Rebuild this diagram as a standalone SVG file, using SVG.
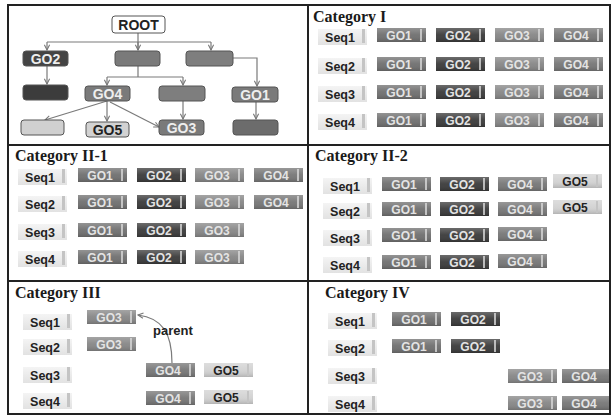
<svg xmlns="http://www.w3.org/2000/svg" width="612" height="417" viewBox="0 0 612 417">
<defs>
<linearGradient id="gloss" x1="0" y1="0" x2="0" y2="1">
<stop offset="0" stop-color="#fff" stop-opacity="0.25"/>
<stop offset="0.5" stop-color="#fff" stop-opacity="0.05"/>
<stop offset="1" stop-color="#000" stop-opacity="0.15"/>
</linearGradient>
<linearGradient id="seqg" x1="0" y1="0" x2="0" y2="1">
<stop offset="0" stop-color="#f4f4f4"/>
<stop offset="1" stop-color="#e2e2e2"/>
</linearGradient>
<marker id="ah" viewBox="0 0 8 8" refX="7" refY="4" markerWidth="7" markerHeight="7" orient="auto" markerUnits="userSpaceOnUse">
<path d="M1,1 L7,4 L1,7" fill="none" stroke="#777" stroke-width="1.2"/>
</marker>
</defs>
<style>
.frame{fill:none;stroke:#222;stroke-width:2}
.title{font-family:"Liberation Serif",serif;font-weight:bold;font-size:16px;fill:#1a1a1a}
.seqt{font-family:"Liberation Sans",Arial,sans-serif;font-weight:bold;font-size:12.5px;fill:#222;text-anchor:middle}
.got{font-family:"Liberation Sans",Arial,sans-serif;font-weight:bold;font-size:12px;text-anchor:middle}
.seqbox{fill:url(#seqg)}
.bevel{fill:#c4c4c4}
.hl{fill:url(#gloss)}
.go1{fill:#6f6f6f}.go2{fill:#3a3a3a}.go3{fill:#868686}.go4{fill:#767676}.go5{fill:#d2d2d2}
.tl{fill:#e4e4e4}.td{fill:#222}
.strip{fill:#d8d8d8;opacity:0.8}
.tn{stroke:#555;stroke-width:1;rx:3}
.tt{font-family:"Liberation Sans",Arial,sans-serif;font-weight:bold;font-size:14px;text-anchor:middle}
.conn{fill:none;stroke:#7a7a7a;stroke-width:1.2}
</style>
<rect x="0" y="0" width="612" height="417" fill="#fff"/>

<!-- Tree panel -->
<g id="tree-connectors">
<path class="conn" d="M138,33 V50"/>
<path class="conn" d="M47,42 H211"/>
<path class="conn" d="M47,42 V50" marker-end="url(#ah)"/>
<path class="conn" d="M138,42 V50" marker-end="url(#ah)"/>
<path class="conn" d="M211,42 V50" marker-end="url(#ah)"/>
<path class="conn" d="M47,66 V84" marker-end="url(#ah)"/>
<path class="conn" d="M138,66 V77 M107,77 H183"/>
<path class="conn" d="M107,77 V85" marker-end="url(#ah)"/>
<path class="conn" d="M183,77 V85" marker-end="url(#ah)"/>
<path class="conn" d="M233,58 H257 V86" marker-end="url(#ah)"/>
<path class="conn" d="M256,102 V119" marker-end="url(#ah)"/>
<path class="conn" d="M183,101 V119" marker-end="url(#ah)"/>
<path class="conn" d="M107,101 L45,120" marker-end="url(#ah)"/>
<path class="conn" d="M107,101 V121" marker-end="url(#ah)"/>
<path class="conn" d="M110,102 L159,127" marker-end="url(#ah)"/>
</g>
<g id="root"><rect class="tn" x="112" y="16" width="53" height="17" fill="#fff"/><text class="tt" x="138.5" y="29.5" fill="#222">ROOT</text></g>
<g id="t-go2"><rect class="tn" x="23" y="51" width="45" height="15" fill="#444"/><text class="tt" x="45.5" y="63.5" fill="#eee">GO2</text></g>
<g id="t-mid"><rect class="tn" x="115" y="51" width="45" height="15" fill="#7a7a7a"/></g>
<g id="t-right"><rect class="tn" x="186" y="51" width="47" height="15" fill="#7e7e7e"/></g>
<g id="t-dark"><rect class="tn" x="23" y="85" width="45" height="15" fill="#3c3c3c"/></g>
<g id="t-go4"><rect class="tn" x="85" y="86" width="45" height="15" fill="#7a7a7a"/><text class="tt" x="107.5" y="98.5" fill="#eee">GO4</text></g>
<g id="t-midright"><rect class="tn" x="159" y="86" width="46" height="15" fill="#7e7e7e"/></g>
<g id="t-go1"><rect class="tn" x="232" y="87" width="46" height="15" fill="#7a7a7a"/><text class="tt" x="255" y="99.5" fill="#eee">GO1</text></g>
<g id="t-light"><rect class="tn" x="21" y="120" width="43" height="15" fill="#d0d0d0"/></g>
<g id="t-go5"><rect class="tn" x="86" y="122" width="43" height="15" fill="#d2d2d2"/><text class="tt" x="107.5" y="134.5" fill="#222">GO5</text></g>
<g id="t-go3"><rect class="tn" x="159" y="120" width="45" height="15" fill="#7a7a7a"/><text class="tt" x="181.5" y="132.5" fill="#eee">GO3</text></g>
<g id="t-bottomright"><rect class="tn" x="233" y="120" width="45" height="15" fill="#6c6c6c"/></g>

<!-- Category I -->
<g id="cat1">
<text class="title" x="313" y="22">Category I</text>
<g id="c1-seq1"><rect class="seqbox" x="318" y="29" width="49" height="16"/><rect class="bevel" x="362" y="29" width="3" height="14"/><text class="seqt" x="340" y="42">Seq1</text></g>
<g id="c1-seq2"><rect class="seqbox" x="318" y="58" width="49" height="16"/><rect class="bevel" x="362" y="58" width="3" height="14"/><text class="seqt" x="340" y="71">Seq2</text></g>
<g id="c1-seq3"><rect class="seqbox" x="318" y="86" width="49" height="16"/><rect class="bevel" x="362" y="86" width="3" height="14"/><text class="seqt" x="340" y="99">Seq3</text></g>
<g id="c1-seq4"><rect class="seqbox" x="318" y="114" width="49" height="16"/><rect class="bevel" x="362" y="114" width="3" height="14"/><text class="seqt" x="340" y="127">Seq4</text></g>

<g><rect class="go1" x="377" y="28" width="49" height="14"/><rect class="hl" x="377" y="28" width="49" height="14"/><rect class="strip" x="420" y="29" width="2" height="12"/><text class="got tl" x="399" y="39.5">GO1</text></g>
<g><rect class="go2" x="436" y="28" width="49" height="14"/><rect class="hl" x="436" y="28" width="49" height="14"/><rect class="strip" x="479" y="29" width="2" height="12"/><text class="got tl" x="458" y="39.5">GO2</text></g>
<g><rect class="go3" x="495" y="28" width="49" height="14"/><rect class="hl" x="495" y="28" width="49" height="14"/><rect class="strip" x="538" y="29" width="2" height="12"/><text class="got tl" x="517" y="39.5">GO3</text></g>
<g><rect class="go4" x="554" y="28" width="49" height="14"/><rect class="hl" x="554" y="28" width="49" height="14"/><rect class="strip" x="597" y="29" width="2" height="12"/><text class="got tl" x="576" y="39.5">GO4</text></g>

<g><rect class="go1" x="377" y="57" width="49" height="14"/><rect class="hl" x="377" y="57" width="49" height="14"/><rect class="strip" x="420" y="58" width="2" height="12"/><text class="got tl" x="399" y="68.5">GO1</text></g>
<g><rect class="go2" x="436" y="57" width="49" height="14"/><rect class="hl" x="436" y="57" width="49" height="14"/><rect class="strip" x="479" y="58" width="2" height="12"/><text class="got tl" x="458" y="68.5">GO2</text></g>
<g><rect class="go3" x="495" y="57" width="49" height="14"/><rect class="hl" x="495" y="57" width="49" height="14"/><rect class="strip" x="538" y="58" width="2" height="12"/><text class="got tl" x="517" y="68.5">GO3</text></g>
<g><rect class="go4" x="554" y="57" width="49" height="14"/><rect class="hl" x="554" y="57" width="49" height="14"/><rect class="strip" x="597" y="58" width="2" height="12"/><text class="got tl" x="576" y="68.5">GO4</text></g>

<g><rect class="go1" x="377" y="85" width="49" height="14"/><rect class="hl" x="377" y="85" width="49" height="14"/><rect class="strip" x="420" y="86" width="2" height="12"/><text class="got tl" x="399" y="96.5">GO1</text></g>
<g><rect class="go2" x="436" y="85" width="49" height="14"/><rect class="hl" x="436" y="85" width="49" height="14"/><rect class="strip" x="479" y="86" width="2" height="12"/><text class="got tl" x="458" y="96.5">GO2</text></g>
<g><rect class="go3" x="495" y="85" width="49" height="14"/><rect class="hl" x="495" y="85" width="49" height="14"/><rect class="strip" x="538" y="86" width="2" height="12"/><text class="got tl" x="517" y="96.5">GO3</text></g>
<g><rect class="go4" x="554" y="85" width="49" height="14"/><rect class="hl" x="554" y="85" width="49" height="14"/><rect class="strip" x="597" y="86" width="2" height="12"/><text class="got tl" x="576" y="96.5">GO4</text></g>

<g><rect class="go1" x="377" y="113" width="49" height="14"/><rect class="hl" x="377" y="113" width="49" height="14"/><rect class="strip" x="420" y="114" width="2" height="12"/><text class="got tl" x="399" y="124.5">GO1</text></g>
<g><rect class="go2" x="436" y="113" width="49" height="14"/><rect class="hl" x="436" y="113" width="49" height="14"/><rect class="strip" x="479" y="114" width="2" height="12"/><text class="got tl" x="458" y="124.5">GO2</text></g>
<g><rect class="go3" x="495" y="113" width="49" height="14"/><rect class="hl" x="495" y="113" width="49" height="14"/><rect class="strip" x="538" y="114" width="2" height="12"/><text class="got tl" x="517" y="124.5">GO3</text></g>
<g><rect class="go4" x="554" y="113" width="49" height="14"/><rect class="hl" x="554" y="113" width="49" height="14"/><rect class="strip" x="597" y="114" width="2" height="12"/><text class="got tl" x="576" y="124.5">GO4</text></g>
</g>

<!-- Category II-1 -->
<g id="cat21">
<text class="title" x="15" y="161">Category II-1</text>
<g><rect class="seqbox" x="18" y="169" width="49" height="16"/><rect class="bevel" x="62" y="169" width="3" height="14"/><text class="seqt" x="40" y="182">Seq1</text></g>
<g><rect class="seqbox" x="18" y="196" width="49" height="16"/><rect class="bevel" x="62" y="196" width="3" height="14"/><text class="seqt" x="40" y="209">Seq2</text></g>
<g><rect class="seqbox" x="18" y="224" width="49" height="16"/><rect class="bevel" x="62" y="224" width="3" height="14"/><text class="seqt" x="40" y="237">Seq3</text></g>
<g><rect class="seqbox" x="18" y="251" width="49" height="16"/><rect class="bevel" x="62" y="251" width="3" height="14"/><text class="seqt" x="40" y="264">Seq4</text></g>

<g><rect class="go1" x="78" y="168" width="49" height="14"/><rect class="hl" x="78" y="168" width="49" height="14"/><rect class="strip" x="121" y="169" width="2" height="12"/><text class="got tl" x="100" y="179.5">GO1</text></g>
<g><rect class="go2" x="137" y="168" width="49" height="14"/><rect class="hl" x="137" y="168" width="49" height="14"/><rect class="strip" x="180" y="169" width="2" height="12"/><text class="got tl" x="159" y="179.5">GO2</text></g>
<g><rect class="go3" x="195" y="168" width="49" height="14"/><rect class="hl" x="195" y="168" width="49" height="14"/><rect class="strip" x="238" y="169" width="2" height="12"/><text class="got tl" x="217" y="179.5">GO3</text></g>
<g><rect class="go4" x="254" y="168" width="49" height="14"/><rect class="hl" x="254" y="168" width="49" height="14"/><rect class="strip" x="297" y="169" width="2" height="12"/><text class="got tl" x="276" y="179.5">GO4</text></g>

<g><rect class="go1" x="78" y="195" width="49" height="14"/><rect class="hl" x="78" y="195" width="49" height="14"/><rect class="strip" x="121" y="196" width="2" height="12"/><text class="got tl" x="100" y="206.5">GO1</text></g>
<g><rect class="go2" x="137" y="195" width="49" height="14"/><rect class="hl" x="137" y="195" width="49" height="14"/><rect class="strip" x="180" y="196" width="2" height="12"/><text class="got tl" x="159" y="206.5">GO2</text></g>
<g><rect class="go3" x="195" y="195" width="49" height="14"/><rect class="hl" x="195" y="195" width="49" height="14"/><rect class="strip" x="238" y="196" width="2" height="12"/><text class="got tl" x="217" y="206.5">GO3</text></g>
<g><rect class="go4" x="254" y="195" width="49" height="14"/><rect class="hl" x="254" y="195" width="49" height="14"/><rect class="strip" x="297" y="196" width="2" height="12"/><text class="got tl" x="276" y="206.5">GO4</text></g>

<g><rect class="go1" x="78" y="223" width="49" height="14"/><rect class="hl" x="78" y="223" width="49" height="14"/><rect class="strip" x="121" y="224" width="2" height="12"/><text class="got tl" x="100" y="234.5">GO1</text></g>
<g><rect class="go2" x="137" y="223" width="49" height="14"/><rect class="hl" x="137" y="223" width="49" height="14"/><rect class="strip" x="180" y="224" width="2" height="12"/><text class="got tl" x="159" y="234.5">GO2</text></g>
<g><rect class="go3" x="195" y="223" width="49" height="14"/><rect class="hl" x="195" y="223" width="49" height="14"/><rect class="strip" x="238" y="224" width="2" height="12"/><text class="got tl" x="217" y="234.5">GO3</text></g>

<g><rect class="go1" x="78" y="250" width="49" height="14"/><rect class="hl" x="78" y="250" width="49" height="14"/><rect class="strip" x="121" y="251" width="2" height="12"/><text class="got tl" x="100" y="261.5">GO1</text></g>
<g><rect class="go2" x="137" y="250" width="49" height="14"/><rect class="hl" x="137" y="250" width="49" height="14"/><rect class="strip" x="180" y="251" width="2" height="12"/><text class="got tl" x="159" y="261.5">GO2</text></g>
<g><rect class="go3" x="195" y="250" width="49" height="14"/><rect class="hl" x="195" y="250" width="49" height="14"/><rect class="strip" x="238" y="251" width="2" height="12"/><text class="got tl" x="217" y="261.5">GO3</text></g>
</g>

<!-- Category II-2 -->
<g id="cat22">
<text class="title" x="315" y="161">Category II-2</text>
<g><rect class="seqbox" x="323" y="178" width="49" height="16"/><rect class="bevel" x="367" y="178" width="3" height="14"/><text class="seqt" x="345" y="191">Seq1</text></g>
<g><rect class="seqbox" x="323" y="203" width="49" height="16"/><rect class="bevel" x="367" y="203" width="3" height="14"/><text class="seqt" x="345" y="216">Seq2</text></g>
<g><rect class="seqbox" x="323" y="230" width="49" height="16"/><rect class="bevel" x="367" y="230" width="3" height="14"/><text class="seqt" x="345" y="243">Seq3</text></g>
<g><rect class="seqbox" x="323" y="257" width="49" height="16"/><rect class="bevel" x="367" y="257" width="3" height="14"/><text class="seqt" x="345" y="270">Seq4</text></g>

<g><rect class="go1" x="382" y="177" width="49" height="14"/><rect class="hl" x="382" y="177" width="49" height="14"/><rect class="strip" x="425" y="178" width="2" height="12"/><text class="got tl" x="404" y="188.5">GO1</text></g>
<g><rect class="go2" x="440" y="177" width="49" height="14"/><rect class="hl" x="440" y="177" width="49" height="14"/><rect class="strip" x="483" y="178" width="2" height="12"/><text class="got tl" x="462" y="188.5">GO2</text></g>
<g><rect class="go4" x="498" y="177" width="49" height="14"/><rect class="hl" x="498" y="177" width="49" height="14"/><rect class="strip" x="541" y="178" width="2" height="12"/><text class="got tl" x="520" y="188.5">GO4</text></g>
<g><rect class="go5" x="553" y="174" width="49" height="14"/><rect class="hl" x="553" y="174" width="49" height="14"/><rect class="bevel" x="596" y="175" width="2" height="12"/><text class="got td" x="575" y="185.5">GO5</text></g>

<g><rect class="go1" x="382" y="202" width="49" height="14"/><rect class="hl" x="382" y="202" width="49" height="14"/><rect class="strip" x="425" y="203" width="2" height="12"/><text class="got tl" x="404" y="213.5">GO1</text></g>
<g><rect class="go2" x="440" y="202" width="49" height="14"/><rect class="hl" x="440" y="202" width="49" height="14"/><rect class="strip" x="483" y="203" width="2" height="12"/><text class="got tl" x="462" y="213.5">GO2</text></g>
<g><rect class="go4" x="498" y="202" width="49" height="14"/><rect class="hl" x="498" y="202" width="49" height="14"/><rect class="strip" x="541" y="203" width="2" height="12"/><text class="got tl" x="520" y="213.5">GO4</text></g>
<g><rect class="go5" x="553" y="200" width="49" height="14"/><rect class="hl" x="553" y="200" width="49" height="14"/><rect class="bevel" x="596" y="201" width="2" height="12"/><text class="got td" x="575" y="211.5">GO5</text></g>

<g><rect class="go1" x="382" y="228" width="49" height="14"/><rect class="hl" x="382" y="228" width="49" height="14"/><rect class="strip" x="425" y="229" width="2" height="12"/><text class="got tl" x="404" y="239.5">GO1</text></g>
<g><rect class="go2" x="440" y="228" width="49" height="14"/><rect class="hl" x="440" y="228" width="49" height="14"/><rect class="strip" x="483" y="229" width="2" height="12"/><text class="got tl" x="462" y="239.5">GO2</text></g>
<g><rect class="go4" x="498" y="227" width="49" height="14"/><rect class="hl" x="498" y="227" width="49" height="14"/><rect class="strip" x="541" y="228" width="2" height="12"/><text class="got tl" x="520" y="238.5">GO4</text></g>

<g><rect class="go1" x="382" y="255" width="49" height="14"/><rect class="hl" x="382" y="255" width="49" height="14"/><rect class="strip" x="425" y="256" width="2" height="12"/><text class="got tl" x="404" y="266.5">GO1</text></g>
<g><rect class="go2" x="440" y="255" width="49" height="14"/><rect class="hl" x="440" y="255" width="49" height="14"/><rect class="strip" x="483" y="256" width="2" height="12"/><text class="got tl" x="462" y="266.5">GO2</text></g>
<g><rect class="go4" x="498" y="254" width="49" height="14"/><rect class="hl" x="498" y="254" width="49" height="14"/><rect class="strip" x="541" y="255" width="2" height="12"/><text class="got tl" x="520" y="265.5">GO4</text></g>
</g>

<!-- Category III -->
<g id="cat3">
<text class="title" x="15" y="298">Category III</text>
<g><rect class="seqbox" x="23" y="314" width="49" height="16"/><rect class="bevel" x="67" y="314" width="3" height="14"/><text class="seqt" x="45" y="327">Seq1</text></g>
<g><rect class="seqbox" x="23" y="339" width="49" height="16"/><rect class="bevel" x="67" y="339" width="3" height="14"/><text class="seqt" x="45" y="352">Seq2</text></g>
<g><rect class="seqbox" x="23" y="367" width="49" height="16"/><rect class="bevel" x="67" y="367" width="3" height="14"/><text class="seqt" x="45" y="380">Seq3</text></g>
<g><rect class="seqbox" x="23" y="393" width="49" height="16"/><rect class="bevel" x="67" y="393" width="3" height="14"/><text class="seqt" x="45" y="406">Seq4</text></g>

<g id="c3-go3a"><rect class="go3" x="87" y="310" width="49" height="14"/><rect class="hl" x="87" y="310" width="49" height="14"/><rect class="strip" x="130" y="311" width="2" height="12"/><text class="got tl" x="109" y="321.5">GO3</text></g>
<g id="c3-go3b"><rect class="go3" x="87" y="337" width="49" height="14"/><rect class="hl" x="87" y="337" width="49" height="14"/><rect class="strip" x="130" y="338" width="2" height="12"/><text class="got tl" x="109" y="348.5">GO3</text></g>
<g id="c3-go4a"><rect class="go4" x="146" y="363" width="49" height="14"/><rect class="hl" x="146" y="363" width="49" height="14"/><rect class="strip" x="189" y="364" width="2" height="12"/><text class="got tl" x="168" y="374.5">GO4</text></g>
<g><rect class="go5" x="204" y="363" width="49" height="14"/><rect class="hl" x="204" y="363" width="49" height="14"/><rect class="bevel" x="247" y="364" width="2" height="12"/><text class="got td" x="226" y="374.5">GO5</text></g>
<g><rect class="go4" x="146" y="391" width="49" height="14"/><rect class="hl" x="146" y="391" width="49" height="14"/><rect class="strip" x="189" y="392" width="2" height="12"/><text class="got tl" x="168" y="402.5">GO4</text></g>
<g><rect class="go5" x="204" y="390" width="49" height="14"/><rect class="hl" x="204" y="390" width="49" height="14"/><rect class="bevel" x="247" y="391" width="2" height="12"/><text class="got td" x="226" y="401.5">GO5</text></g>
</g>
<g id="parent-connector">
<path class="conn" d="M172,363 C172,333 162,318 138,315" stroke-width="1" marker-end="url(#ah)"/>
<text x="153" y="335" font-family="Liberation Sans, Arial, sans-serif" font-weight="bold" font-size="13" fill="#222">parent</text>
</g>

<!-- Category IV -->
<g id="cat4">
<text class="title" x="325" y="298">Category IV</text>
<g><rect class="seqbox" x="328" y="313" width="49" height="16"/><rect class="bevel" x="372" y="313" width="3" height="14"/><text class="seqt" x="350" y="326">Seq1</text></g>
<g><rect class="seqbox" x="328" y="340" width="49" height="16"/><rect class="bevel" x="372" y="340" width="3" height="14"/><text class="seqt" x="350" y="353">Seq2</text></g>
<g><rect class="seqbox" x="328" y="368" width="49" height="16"/><rect class="bevel" x="372" y="368" width="3" height="14"/><text class="seqt" x="350" y="381">Seq3</text></g>
<g><rect class="seqbox" x="328" y="396" width="49" height="16"/><rect class="bevel" x="372" y="396" width="3" height="14"/><text class="seqt" x="350" y="409">Seq4</text></g>

<g><rect class="go1" x="392" y="312" width="49" height="14"/><rect class="hl" x="392" y="312" width="49" height="14"/><rect class="strip" x="435" y="313" width="2" height="12"/><text class="got tl" x="414" y="323.5">GO1</text></g>
<g><rect class="go2" x="451" y="312" width="49" height="14"/><rect class="hl" x="451" y="312" width="49" height="14"/><rect class="strip" x="494" y="313" width="2" height="12"/><text class="got tl" x="473" y="323.5">GO2</text></g>
<g><rect class="go1" x="392" y="339" width="49" height="14"/><rect class="hl" x="392" y="339" width="49" height="14"/><rect class="strip" x="435" y="340" width="2" height="12"/><text class="got tl" x="414" y="350.5">GO1</text></g>
<g><rect class="go2" x="451" y="339" width="49" height="14"/><rect class="hl" x="451" y="339" width="49" height="14"/><rect class="strip" x="494" y="340" width="2" height="12"/><text class="got tl" x="473" y="350.5">GO2</text></g>
<g><rect class="go3" x="508" y="369" width="49" height="14"/><rect class="hl" x="508" y="369" width="49" height="14"/><rect class="strip" x="551" y="370" width="2" height="12"/><text class="got tl" x="530" y="380.5">GO3</text></g>
<g><rect class="go4" x="562" y="369" width="47" height="14"/><rect class="hl" x="562" y="369" width="47" height="14"/><text class="got tl" x="584" y="380.5">GO4</text></g>
<g><rect class="go3" x="508" y="396" width="49" height="14"/><rect class="hl" x="508" y="396" width="49" height="14"/><rect class="strip" x="551" y="397" width="2" height="12"/><text class="got tl" x="530" y="407.5">GO3</text></g>
<g><rect class="go4" x="562" y="396" width="47" height="14"/><rect class="hl" x="562" y="396" width="47" height="14"/><text class="got tl" x="584" y="407.5">GO4</text></g>
</g>

<!-- Frame -->
<g id="frame">
<rect class="frame" x="8" y="5" width="602" height="409"/>
<line class="frame" x1="308" y1="5" x2="308" y2="414"/>
<line class="frame" x1="8" y1="145" x2="610" y2="145"/>
<line class="frame" x1="8" y1="281" x2="610" y2="281"/>
</g>
</svg>
